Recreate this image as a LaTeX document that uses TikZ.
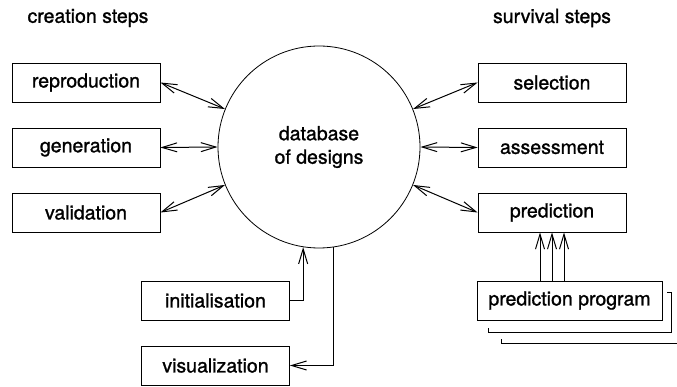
\documentclass[tikz,border=0pt]{standalone}
\usepackage{fontspec}
\setmainfont{TeX Gyre Heros}[UprightFeatures = {FakeBold = 1.2}]
\usetikzlibrary{arrows.meta, calc}

\tikzset{
	stepbox/.style = {draw, line width = 0.8pt, minimum width = 148pt, minimum height = 39pt, inner sep = 0pt},
	big/.style = {font = \fontsize{19.5}{23.5}\selectfont}
}

\begin{document}
\begin{tikzpicture}[> = {Straight Barb[length = 15pt, width = 9pt]}, x = 1pt, y = -1pt, big]

	\useasboundingbox (0, 0) rectangle (677, 387);

	\node (create) at (88, 18) {creation steps};
	\node (survive) at (552, 18) {survival steps};

	\node [circle, draw, line width = 0.8pt, minimum size = 202pt, align = center] (db) at (319, 147) {database\\of designs};

	\node [stepbox] (repro) at (86, 82.5) {reproduction};
	\node [stepbox] (gen) at (86, 147.5) {generation};
	\node [stepbox] (valid) at (86, 212.5) {validation};

	\node [stepbox] (select) at (552, 82.5) {selection};
	\node [stepbox] (assess) at (552, 147.5) {assessment};
	\node [stepbox] (pred) at (552, 212.5) {prediction};

	\node [stepbox] (init) at (215.5, 300.5) {initialisation};
	\node [stepbox] (vis) at (215.5, 365.5) {visualization};
	\node [stepbox, minimum width = 185pt] (prog) at (569.5, 300.5) {prediction program};

	\begin{scope}[<->, line width = 1pt]

		\draw (repro.east) -- (db.158);
		\draw (gen.east) -- (db.west);
		\draw (valid.east) -- (db.202);

		\draw (select.west) -- (db.22);
		\draw (assess.west) -- (db.east);
		\draw (pred.west) -- (db.-22);

	\end{scope}

	\draw [->, line width = 1pt] (init.east) -| (db.261);
	\draw [->, line width = 1pt] (db.278.5) |- (vis.east);

	\foreach \dx in {-12, 0, 12} {
		\coordinate (tip) at ([xshift = \dx pt] pred.south);
		\draw [->, line width = 1pt] (tip |- prog.north) -- (tip);
	}

	% copies of the program behind it
	\draw [line width = 0.8pt] ($(prog.north east) + (5, 12)$) -| ($(prog.south east) + (9, 12)$) -| ($(prog.south west) + (12, 8)$);
	\draw [line width = 0.8pt] ($(prog.south west) + (25, 19)$) |- ($(prog.south east) + (15, 23)$);

\end{tikzpicture}
\end{document}
